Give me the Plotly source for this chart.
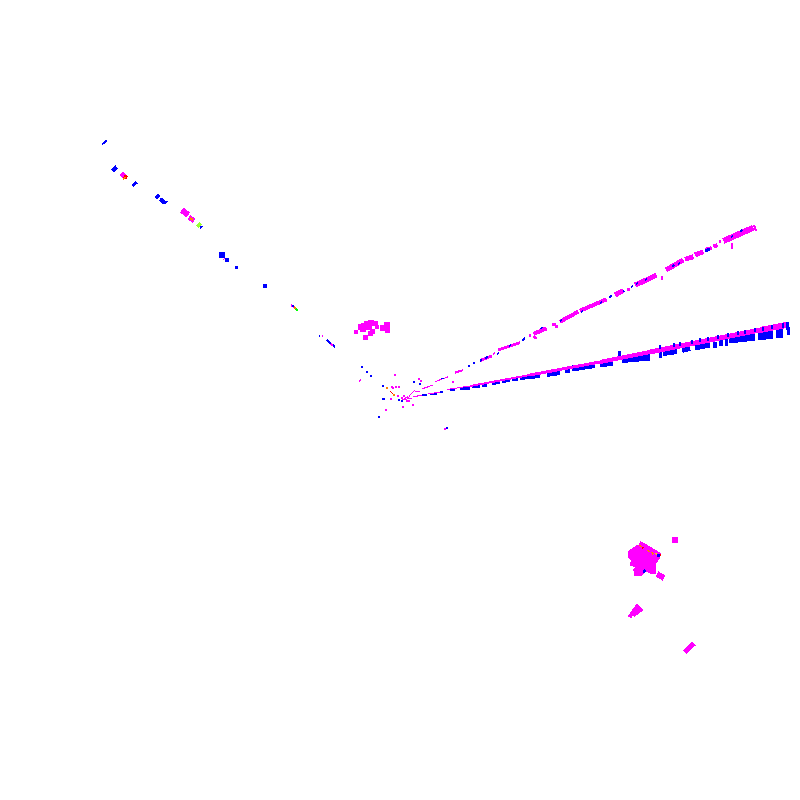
import plotly.graph_objects as go

MAG = "#ff00ff"; BLU = "#0000ff"; RED = "#ff0000"; ORA = "#ff8000"; YEL = "#ffd000"; GRN = "#00ff00"; LIM = "#99ff33"

# streaks: (x0, y0, x1, y1, width)
ray2_blue_under = [
    (520,378,540,376,4),(547,374.5,560,372.5,5),(565,371,570,370,5),(572,368.5,595,365,6),
    (600,364,613,363,6),(622,359.5,650,357,7),(640,357,650,356,5),(660.3,348,660.3,358,3),
    (663,353,677,351,6),(682,350,690,348,6),(695,347,710,344,7),(713,345,717,345,6),
    (719,342,723,342,8),(724.5,342,727.5,342,7),(729,339,755,336,9),(758,335,773,334,10),
    (776,333,783,333,9),(788.5,327,788.5,335,3),(619.5,351,619.5,357,3),
    (422,395,427,395,2),(430,394,437,394,2),(440,392,443,391.5,2),(450,390.5,455,390,2),
    (460,388.5,470,388,3),(472,387,480,386,3),(482,385,487,385,4),(492,383,500,382,4),
    (502,381,510,380,4),(512,379,518,378.5,4),
]
ray2_magenta = [
    (402,400,412,398,1),(413,397,422,395,1),(428,394,440,392,1),(447,389.5,470,386,1),
    (470,386,530,375,2),(530,375,600,362,3),(600,362,650,352,4),(650,352,700,342,5),
    (700,342,760,330,5),(760,330,789,324.5,6),
]
ray2_blue_stripes = [
    (660,345,660,349,2),(674,343,674,347,2),(680,342,680,346,2),(692,340,692,344,2),
    (700,338,700,342,2),(708,337,708,341,2),(718,335,718,339,2),(728,333,728,337,2),
    (738,331,738,335,2),(745,330,745,334,2),(755,328,755,332,2),(763,327,763,331,2),
    (772,325,772,329,2),(783,323,783,328,2),(787,322,787,330,3),
]
ray1_magenta = [
    (406.7,398.3,410,396.5,1),(415,392,420,391,1),(421.7,389,433.3,385,1),(435,381.7,448.3,376.7,1),
    (455,372.7,463.3,370,2),(468.3,366,470,365.5,1),(480,360.7,491.7,356,3),(493,354,495,353,2),
    (498.3,350,520,342.7,3),(529.3,336,531,335.5,3),(533.3,334,546.7,328.3,4),(552.3,325,556,324,3),
    (560,321.7,578.3,311.7,4),(580,310.7,606.7,299.3,4),(615,295,623.3,290.7,5),(626.7,289.3,630,289,3),
    (635,285,650,278.3,5),(640,283.3,656.7,275,5),(666,270,683.3,260,5),(685,259.3,693.3,256.7,5),
    (695,255,703.3,251.7,5),(705,250,711.7,248,4),(713.3,246.7,717.3,245,4),(720,243.3,720,240,2),
    (723.3,241,753.3,227.7,6),(754,225,756,231,2),(751,226,751,232,2),(661.7,276,661.7,280,2),
    (731.7,243,731.7,249,2),(534,336,536,339,3),(556,325,557,328,3),(600,300,601,304,2),
]
ray1_blue = [
    (441,379,444,378,1),(468.3,366,470,365.5,2),(473,363.5,475,362.5,2),(480,360.7,482,360,2),
    (485,358,488,357,2),(497,354,499,353,2),(509,346,511,345,2),(523,339,525,338,2),
    (522,341,524,339,2),(541,329,542,327,2),(560,321,562,320,2),(581,312,583,311,2),
    (600,303,602,302,2),(610,298,611,295,2),(623,292,624,291,2),(631,287,633,286,2),
    (636,284,638,283,2),(645,280,647,279,2),(672,267,674,265,2),(678,264,680,263,2),
    (705,251,710,249,3),(731,237,733,236,2),(740,232,742,230,2),
]
left_blue = [
    (102.3,144.3,106.7,140,2),(112.3,171,116.7,166.7,4),(132.3,186,136.7,182.3,3),
    (155.7,198.3,159.3,194.7,3),(160,199,165,203,4),(164.3,204,167.7,201,2),
    (200,228,202.5,226,2),(326.7,340,335,347,2),(319,336,320,336,2),
]
left_magenta = [
    (121,176.7,125,173.3,5),(181.7,210,188.3,215,6),(189,217,194,221,5),(224,258,225,258.5,4),
    (291,305,294,307,2),(322,335.7,322.5,335.7,2),(331,344,333,346,2),
]
left_hot = [
    (124,176,127,178,4,RED),(124,178,125,179,3,ORA),(190,218,193,220,2,ORA),
    (197.3,226.7,200.7,223.3,3,LIM),(294,307,296,308.5,2,ORA),(296,309,298,311,2,GRN),
]
center_magenta_lines = [
    (403,400,408,396,1),(390,391,394,395,1),(359,382,361,379,1),(409,396,415,390,1),
]
center_hot_lines = [
    (390,391,394,395,1,RED),(393,394,395,396,1,ORA),
]
br_magenta = [
    (657,574,664,578,6),(629.3,617.3,638.3,605,4),(632.7,615,641.7,608.3,5),(685,652.3,694,643.5,5),
]
br_hot = [
    (640,545,641,547,2,ORA),(642.7,547.3,643.5,548.5,2,RED),(648,550,649,552,2,ORA),
    (652,552,653,554.5,2,ORA),(656,553,657,555,2,YEL),(658.3,554,658.3,556.5,3,BLU),
    (660,554,660,556,2,RED),(643.5,570,645,572.5,3,BLU),
]
blob_x = [640,643.3,660,659.3,655,655,650,645,641.7,635,634,636.7,630.7,631.7,628.3,629.3,633.3,638.3]
blob_y = [541.7,543.3,553.3,558.3,563.3,573.3,572.7,570,575,575,570,566.7,565,560,556.7,550.7,548.3,545]

upper_x = [356,361,364,367,371,375,363,369,372,370,365,377,383,387,386,387,364]
upper_y = [332,327,326,324,323,323,329,327,331,333,337,327,328,325,328,330,331]
upper_s = [4,6,6,6,6,5,6,6,5,5,5,4,6,6,6,5,2]

pt_blue_x = [362,367,371,383,383,379,414,420,447,402,384,399]
pt_blue_y = [367,372,376,386,399,417,382,384,428,401,399,400]
pt_mag_x = [395,386,391,392,393,396,399,398,403,413,419,421,453,409,445,404,402,407]
pt_mag_y = [375,410,399,387,388,387,387,396,407,405,379,381,382,401,429,396,398,401]
pt_ora_x = [387,394]
pt_ora_y = [388,395]
left_dot_x = [222,227,236,265,675,293]
left_dot_y = [255,260,267,286,540,306]
left_dot_s = [6,4,3,4,6,2]
left_dot_c = [BLU,BLU,BLU,BLU,MAG,BLU]

fig = go.Figure()

def segs(items, default=None):
    groups = {}
    for it in items:
        x0, y0, x1, y1, w = it[:5]
        c = it[5] if len(it) > 5 else default
        g = groups.setdefault((c, w), ([], []))
        g[0].extend([x0, x1, None]); g[1].extend([y0, y1, None])
    for (c, w), (xs, ys) in groups.items():
        fig.add_trace(go.Scatter(x=xs, y=ys, mode="lines", line=dict(color=c, width=w), hoverinfo="skip"))

def pts(xs, ys, c, s):
    fig.add_trace(go.Scatter(x=xs, y=ys, mode="markers", hoverinfo="skip",
                             marker=dict(symbol="square", color=c, size=s, opacity=1, line=dict(width=0))))

segs(ray2_blue_under, BLU)
segs(ray2_magenta, MAG)
segs(ray2_blue_stripes, BLU)
segs(ray1_magenta, MAG)
segs(ray1_blue, BLU)
segs(left_blue, BLU)
segs(left_magenta, MAG)
segs(left_hot)
segs(center_magenta_lines, MAG)
segs(center_hot_lines)
fig.add_trace(go.Scatter(x=blob_x, y=blob_y, mode="lines", fill="toself", fillcolor=MAG,
                         line=dict(color=MAG, width=1.5), hoverinfo="skip"))
segs(br_magenta, MAG)
segs(br_hot)
pts(upper_x, upper_y, MAG, upper_s)
pts(pt_blue_x, pt_blue_y, BLU, 2)
pts(pt_mag_x, pt_mag_y, MAG, 2)
pts(pt_ora_x, pt_ora_y, ORA, 2)
pts(left_dot_x, left_dot_y, left_dot_c, left_dot_s)

fig.update_layout(
    width=784, height=784, margin=dict(l=0, r=0, t=0, b=0), showlegend=False,
    paper_bgcolor="white", plot_bgcolor="white",
    xaxis=dict(range=[8, 792], visible=False, fixedrange=True),
    yaxis=dict(range=[792, 8], visible=False, fixedrange=True),
)
fig.write_html(
    "out.html", config={"displayModeBar": False},
    post_script="document.querySelectorAll('.scatterlayer path').forEach(function(p){p.style.shapeRendering='crispEdges';});",
)
